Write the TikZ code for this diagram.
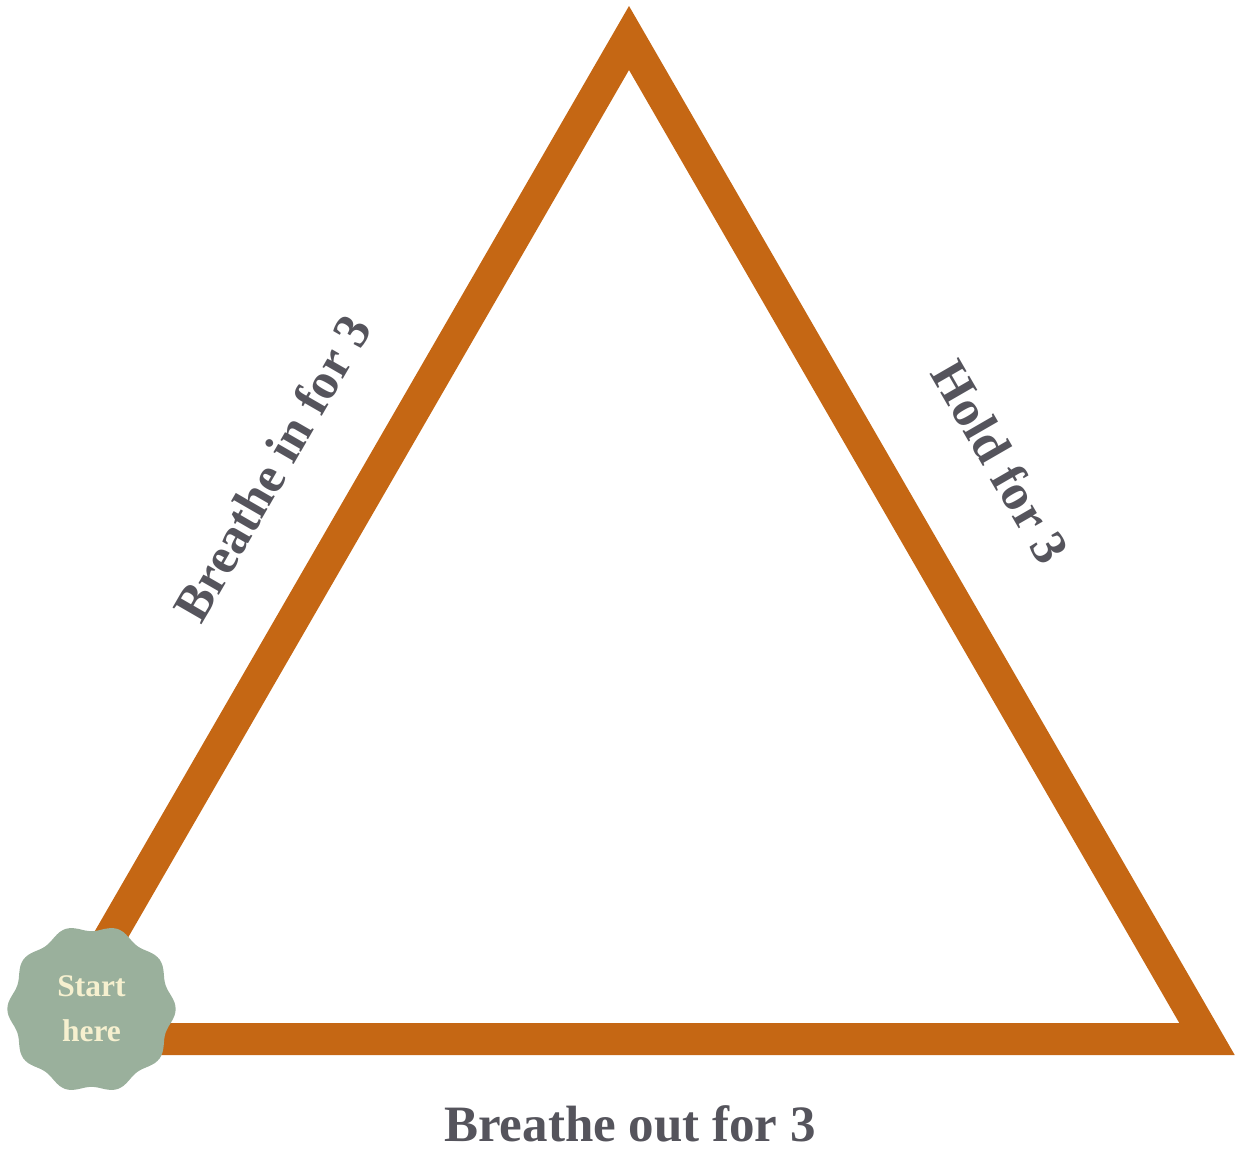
\documentclass[tikz,border=0pt]{standalone}
\usepackage{fontspec}
\setmainfont{Liberation Serif}
\definecolor{breathorange}{HTML}{C56714}
\definecolor{breathgray}{HTML}{55545C}
\definecolor{breathsage}{HTML}{9AB09C}
\definecolor{breathcream}{HTML}{F6F0CF}
\tikzset{
  breath edge/.style={
    draw=breathorange,
    line width=32pt,
    line join=miter,
  },
  breath label/.style={
    font=\fontsize{51}{54}\selectfont\bfseries,
    text=breathgray,
    inner sep=0pt,
  },
  breath badge text/.style={
    font=\fontsize{31.5}{45}\selectfont\bfseries,
    text=breathcream,
    align=center,
    inner sep=0pt,
  },
}

\begin{document}
\begin{tikzpicture}[x=1pt, y=-1pt]
  \useasboundingbox (0,0) rectangle (1236,1153);

  % --- Triangle corners (centre line of the stroke) ---
  \coordinate (apex)  at (629, 38);
  \coordinate (right) at (1207, 1039);
  \coordinate (left)  at (51, 1039);

  % --- Breathing triangle ---
  \draw[breath edge] (left) -- (apex) -- (right) -- cycle;

  % --- Side labels ---
  \node[breath label, rotate=60]  (inlabel)   at (272, 468)  {Breathe in for 3};
  \node[breath label, rotate=-60] (holdlabel) at (1001, 462) {Hold for 3};
  \node[breath label]             (outlabel)  at (630, 1124) {Breathe out for 3};

  % --- Start badge (wavy disc) ---
  \coordinate (badge) at (91.5, 1009);
  \fill[breathsage, shift={(badge)}]
    plot[smooth cycle, samples=80, domain=0:355.5, variable=\t]
    (\t:{81+3.2*cos(10*\t)});
  \node[breath badge text] (start) at (badge) {Start\\here};

\end{tikzpicture}
\end{document}
